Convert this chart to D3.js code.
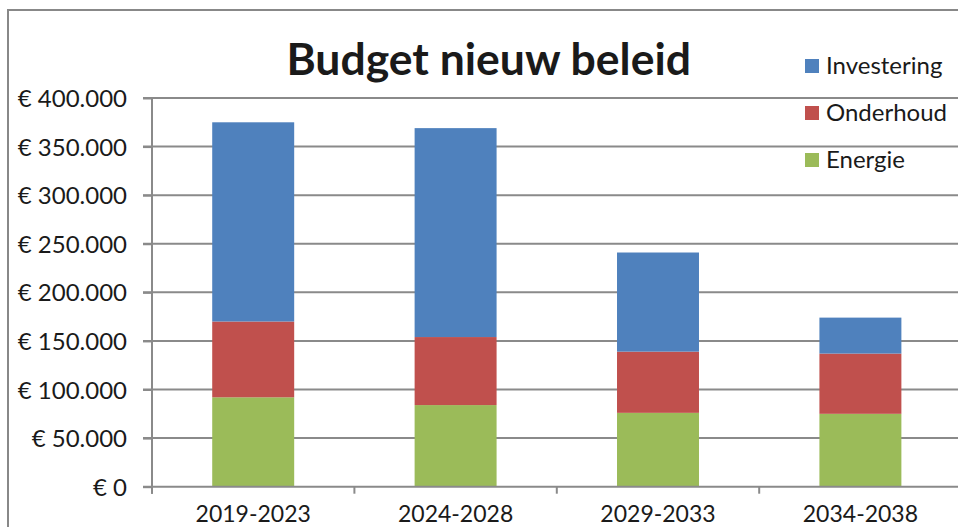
<!DOCTYPE html>
<html>
<head>
<meta charset="utf-8">
<script src="https://cdn.jsdelivr.net/npm/d3@7"></script>
<style>
  html, body { margin: 0; padding: 0; background: #fff; }
  svg { display: block; }
  text { font-family: Lato, "Open Sans", sans-serif; fill: #1a1a1a; }
</style>
</head>
<body>
<div id="chart"></div>
<script>
const categories = ["2019-2023", "2024-2028", "2029-2033", "2034-2038"];
const energie     = [92000, 84000, 76000, 75000];
const onderhoud   = [78000, 70000, 63000, 62000];
const investering = [205000, 215000, 102000, 37000];
const seriesNames = ["Energie", "Onderhoud", "Investering"];
const yTicks = [0, 50000, 100000, 150000, 200000, 250000, 300000, 350000, 400000];
const title = "Budget nieuw beleid";

const W = 958, H = 527;
const colors = { Energie: "#9BBB59", Onderhoud: "#C0504D", Investering: "#4F81BD" };

const svg = d3.select("#chart").append("svg").attr("width", W).attr("height", H);

// outer chart border
svg.append("rect").attr("x", 8).attr("y", 10).attr("width", W + 20).attr("height", H + 20)
  .attr("fill", "#fff").attr("stroke", "#888").attr("stroke-width", 2);

const x0 = 152, yTop = 98, yBot = 486.7, step = 202.4;
const x = d3.scaleBand().domain(categories).range([x0, x0 + step * categories.length])
  .paddingInner(0.595).paddingOuter(0.2975);
const y = d3.scaleLinear().domain([0, 400000]).range([yBot, yTop]);

const nl = d3.formatLocale({ decimal: ",", thousands: ".", grouping: [3], currency: ["€ ", ""] });
const fmt = v => "€ " + nl.format(",")(v);

// gridlines
svg.append("g").selectAll("line").data(yTicks.filter(d => d > 0)).join("line")
  .attr("x1", x0 - 9).attr("x2", W + 10)
  .attr("y1", d => y(d)).attr("y2", d => y(d))
  .attr("stroke", "#8a8a8a").attr("stroke-width", 2);

// stacked data
const rows = categories.map((c, i) => ({ cat: c, Energie: energie[i], Onderhoud: onderhoud[i], Investering: investering[i] }));
const stack = d3.stack().keys(seriesNames)(rows);

svg.append("g").selectAll("g").data(stack).join("g")
  .attr("fill", d => colors[d.key])
  .selectAll("rect").data(d => d).join("rect")
  .attr("x", d => x(d.data.cat))
  .attr("width", x.bandwidth())
  .attr("y", d => y(d[1]))
  .attr("height", d => y(d[0]) - y(d[1]));

// y axis
const yAxis = d3.axisLeft(y).tickValues(yTicks).tickFormat(fmt).tickSize(9).tickPadding(16);
const gy = svg.append("g").attr("transform", `translate(${x0},0)`).call(yAxis);
gy.select(".domain").remove();
gy.append("line").attr("x1", 0).attr("x2", 0).attr("y1", yTop).attr("y2", yBot + 7)
  .attr("stroke", "#8a8a8a").attr("stroke-width", 2);
gy.selectAll(".tick line").attr("stroke", "#8a8a8a").attr("stroke-width", 2);
gy.selectAll(".tick text").style("font-size", "24px").attr("fill", "#1a1a1a").attr("dy", "0.36em");

// x axis
const boundaries = categories.map((c, i) => x0 + step * i);
svg.append("line").attr("x1", x0 - 9).attr("x2", W + 10).attr("y1", yBot).attr("y2", yBot)
  .attr("stroke", "#8a8a8a").attr("stroke-width", 2);
svg.append("g").selectAll("line").data(boundaries).join("line")
  .attr("x1", d => d).attr("x2", d => d).attr("y1", yBot).attr("y2", yBot + 7)
  .attr("stroke", "#8a8a8a").attr("stroke-width", 2);
svg.append("g").selectAll("text").data(categories).join("text")
  .attr("x", d => x(d) + x.bandwidth() / 2).attr("y", 521.5)
  .attr("text-anchor", "middle").style("font-size", "23px").text(d => d);

// title
svg.append("text").attr("x", 488.7).attr("y", 75).attr("text-anchor", "middle")
  .style("font-size", "44.5px").style("font-weight", "bold").attr("fill", "#000").text(title);

// legend
const legendOrder = ["Investering", "Onderhoud", "Energie"];
const lg = svg.append("g").selectAll("g").data(legendOrder).join("g")
  .attr("transform", (d, i) => `translate(805, ${59 + i * 47})`);
lg.append("rect").attr("width", 14).attr("height", 14).attr("fill", d => colors[d]);
lg.append("text").attr("x", 21).attr("y", 15).style("font-size", "24px").text(d => d);
</script>
</body>
</html>
